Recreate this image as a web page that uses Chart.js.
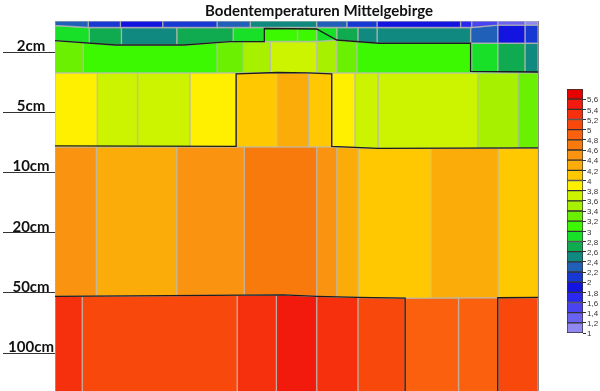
<!DOCTYPE html>
<html>
<head>
<meta charset="utf-8">
<script src="https://cdn.jsdelivr.net/npm/chart.js@4.4.1/dist/chart.umd.min.js"></script>
<style>
html,body{margin:0;padding:0;background:#fff;}
#wrap{position:relative;width:600px;height:391px;overflow:hidden;background:#fff;}
#main{position:absolute;left:0;top:0;}
#legend{position:absolute;left:552px;top:80px;}
</style>
</head>
<body>
<div id="wrap">
<canvas id="main" width="600" height="391"></canvas>
<canvas id="legend" width="48" height="262"></canvas>
</div>
<script>
// ---------- text ----------
const chartTitle = 'Bodentemperaturen Mittelgebirge';
const depthLabels = ['2cm', '5cm', '10cm', '20cm', '50cm', '100cm'];
const depthTickPos = [1, 2, 3, 4, 5, 6];
const depthRange = [0.48, 6.63];
const timeRange = [0, 48];

// ---------- layer boundaries: [time, depth position] ----------
const edgeTop = [[0, 0.48], [48, 0.48]];
const edgeAB = [[0, 0.555], [3.3, 0.588], [41.4, 0.588], [44.0, 0.547], [48, 0.547]];
const edgeBC = [[0, 0.807], [6.0, 0.879], [12.8, 0.879], [17.4, 0.824], [20.8, 0.821], [26.0, 0.821], [28.0, 0.796], [32.2, 0.850], [48, 0.850]];
const edgeCD = [[0, 1.341], [48, 1.341]];
const edgeDE = [[0, 2.573], [27.5, 2.573], [32.1, 2.598], [48, 2.590]];
const edgeEF = [[0, 5.056], [22.7, 5.032], [26.1, 5.056], [30.1, 5.073], [34.8, 5.086], [48, 5.073]];
const edgeBottom = [[0, 6.7], [48, 6.7]];

// ---------- cells of every layer: time edges and temperatures (°C) ----------
const rowATimes = [0, 3.3, 6.5, 10.7, 16.1, 19.4, 26.0, 29.0, 32.0, 40.3, 41.4, 44.0, 46.7, 48];
const rowATemps = [2.3, 2.1, 1.9, 2.1, 2.3, 2.5, 2.3, 2.1, 1.9, 1.7, 1.5, 1.3, 1.1];

const rowBTimes = [0, 3.4, 6.6, 12.1, 17.7, 20.8, 24.1, 26.0, 28.0, 30.1, 32.0, 41.3, 44.0, 46.7, 48];
const rowBTemps = [2.9, 2.7, 2.5, 2.7, 2.9, 3.1, 3.1, 2.9, 2.7, 2.5, 2.5, 2.3, 1.9, 2.1];

const rowCTimes = [0, 2.8, 16.1, 18.7, 21.4, 26.0, 28.0, 30.0, 41.4, 44.0, 46.7, 48];
const rowCTemps = [3.3, 3.1, 3.3, 3.5, 3.7, 3.5, 3.3, 3.1, 2.9, 2.7, 2.5];

const rowDTimes = [0, 4.2, 8.2, 13.4, 18.0, 22.1, 25.2, 27.5, 29.8, 32.1, 42.0, 46.0, 48];
const rowDTemps = [3.9, 3.7, 3.6, 3.9, 4.1, 4.3, 4.1, 3.9, 3.7, 3.7, 3.5, 3.3];

const rowETimes = [0, 4.1, 12.1, 18.8, 26.0, 28.0, 30.1, 37.4, 44.0, 48];
const rowETemps = [4.5, 4.3, 4.5, 4.7, 4.5, 4.3, 4.1, 4.3, 4.1];

const rowFTimes = [0, 2.7, 18.1, 22.0, 26.0, 30.1, 34.8, 40.1, 44.0, 48];
const rowFTemps = [5.3, 5.1, 5.3, 5.5, 5.3, 5.1, 4.9, 4.9, 5.1];

// ---------- isotherms (black contour lines) ----------
const iso3 = [[0, 0.807], [6.0, 0.879], [12.8, 0.879], [17.4, 0.824], [20.8, 0.821], [20.8, 0.605], [26.0, 0.613], [28.0, 0.796], [32.2, 0.850], [41.3, 0.850], [41.3, 1.318], [48, 1.328]];
const iso4 = [[0, 2.556], [18.0, 2.565], [18.0, 1.360], [22.1, 1.336], [25.1, 1.341], [27.5, 1.360], [27.5, 2.565], [32.1, 2.598], [48, 2.590]];
const iso5a = [[0, 5.056], [22.7, 5.032], [26.1, 5.056], [30.1, 5.073], [34.8, 5.086], [34.8, 6.7]];
const iso5b = [[44.0, 6.7], [44.0, 5.08], [48, 5.073]];

// ---------- colour scale ----------
const legendEdges = [1, 1.2, 1.4, 1.6, 1.8, 2, 2.2, 2.4, 2.6, 2.8, 3, 3.2, 3.4, 3.6, 3.8, 4, 4.2, 4.4, 4.6, 4.8, 5, 5.2, 5.4, 5.6, 5.8];
const legendTickLabels = ['1', '1,2', '1,4', '1,6', '1,8', '2', '2,2', '2,4', '2,6', '2,8', '3', '3,2', '3,4', '3,6', '3,8', '4', '4,2', '4,4', '4,6', '4,8', '5', '5,2', '5,4', '5,6'];
const legendColors = ['#9088f0', '#6a62f0', '#4a44f0', '#2a28f0', '#1414e0', '#1838d4', '#2060b8', '#108a80', '#10aa50', '#18e028',
                      '#3cf800', '#6af000', '#a6f000', '#ccf400', '#fff000', '#ffc800', '#fcac08', '#fa9410', '#f87a0c', '#fb600e',
                      '#f8480c', '#f6300c', '#f21a0c', '#e60000'];

function colorFor(t) {
  for (let i = 0; i < legendEdges.length - 1; i++) {
    if (t >= legendEdges[i] && t < legendEdges[i + 1]) return legendColors[i];
  }
  return legendColors[legendColors.length - 1];
}

function yAt(edge, x) {
  for (let i = 0; i < edge.length - 1; i++) {
    const [x0, y0] = edge[i], [x1, y1] = edge[i + 1];
    if (x >= x0 && x <= x1) return x1 === x0 ? y0 : y0 + (y1 - y0) * (x - x0) / (x1 - x0);
  }
  return edge[edge.length - 1][1];
}

function cellPolygon(top, bot, x0, x1) {
  const pts = [{x: x0, y: yAt(top, x0)}];
  top.forEach(([x, y]) => { if (x > x0 && x < x1) pts.push({x, y}); });
  pts.push({x: x1, y: yAt(top, x1)});
  pts.push({x: x1, y: yAt(bot, x1)});
  bot.slice().reverse().forEach(([x, y]) => { if (x > x0 && x < x1) pts.push({x, y}); });
  pts.push({x: x0, y: yAt(bot, x0)});
  pts.push({x: x0, y: yAt(top, x0)});
  return pts;
}

const layers = [
  {times: rowATimes, temps: rowATemps, top: edgeTop, bot: edgeAB},
  {times: rowBTimes, temps: rowBTemps, top: edgeAB, bot: edgeBC},
  {times: rowCTimes, temps: rowCTemps, top: edgeBC, bot: edgeCD},
  {times: rowDTimes, temps: rowDTemps, top: edgeCD, bot: edgeDE},
  {times: rowETimes, temps: rowETemps, top: edgeDE, bot: edgeEF},
  {times: rowFTimes, temps: rowFTemps, top: edgeEF, bot: edgeBottom}
];

const datasets = [];
[iso3, iso4, iso5a, iso5b].forEach(line => {
  datasets.push({
    data: line.map(([x, y]) => ({x, y})),
    showLine: true, fill: false, borderColor: '#1c1c1c', borderWidth: 1.3,
    pointRadius: 0, tension: 0, order: 0
  });
});
layers.forEach(layer => {
  layer.temps.forEach((t, i) => {
    datasets.push({
      data: cellPolygon(layer.top, layer.bot, layer.times[i], layer.times[i + 1]),
      showLine: true, fill: 'shape', backgroundColor: colorFor(t),
      borderColor: 'rgba(185,185,175,0.75)', borderWidth: 1.3,
      pointRadius: 0, tension: 0, order: 1
    });
  });
});

Chart.defaults.font.family = 'Lato, "Open Sans", sans-serif';

new Chart(document.getElementById('main'), {
  type: 'scatter',
  data: {datasets},
  options: {
    responsive: false, animation: false, devicePixelRatio: 1,
    layout: {padding: {left: 0, right: -38, top: 0, bottom: 0}},
    plugins: {
      legend: {display: false}, tooltip: {enabled: false},
      title: {display: true, text: chartTitle, color: '#111',
              font: {size: 15, weight: 'bold', lineHeight: 1.2},
              padding: {top: 2, bottom: 1}}
    },
    scales: {
      x: {type: 'linear', min: timeRange[0], max: timeRange[1], display: false},
      y: {
        type: 'linear', reverse: true, min: depthRange[0], max: depthRange[1],
        afterBuildTicks: s => { s.ticks = depthTickPos.map(v => ({value: v})); },
        afterFit: s => { s.width = 55; },
        ticks: {callback: (v, i) => depthLabels[i], color: '#111', crossAlign: 'center',
                padding: -51, labelOffset: -6, autoSkip: false,
                font: {size: 15, weight: 'bold'}},
        grid: {drawOnChartArea: false, drawTicks: true, tickLength: 52, tickColor: '#333', tickWidth: 1.2},
        border: {display: true, color: '#666', width: 1}
      },
      y2: {
        type: 'linear', position: 'right', min: 0, max: 1,
        afterFit: s => { s.width = 100; },
        ticks: {display: false},
        grid: {drawOnChartArea: false, drawTicks: false},
        border: {display: true, color: '#888', width: 1}
      }
    }
  }
});

// ---------- colour legend ----------
new Chart(document.getElementById('legend'), {
  type: 'bar',
  data: {
    labels: [''],
    datasets: legendColors.map((c, i) => ({
      data: [[legendEdges[i], legendEdges[i + 1]]],
      backgroundColor: c, borderColor: '#333', borderWidth: 1,
      grouped: false, categoryPercentage: 1, barPercentage: 1, borderSkipped: false
    }))
  },
  options: {
    responsive: false, animation: false, devicePixelRatio: 1,
    layout: {padding: {left: 15, right: 0, top: 9, bottom: 9}},
    plugins: {legend: {display: false}, tooltip: {enabled: false}},
    scales: {
      x: {display: false},
      y: {
        position: 'right', min: legendEdges[0], max: legendEdges[legendEdges.length - 1],
        afterBuildTicks: s => { s.ticks = legendEdges.slice(0, legendTickLabels.length).map(v => ({value: v})); },
        afterFit: s => { s.width = 17; },
        ticks: {callback: (v, i) => legendTickLabels[i], color: '#333', padding: 1, labelOffset: 1,
                autoSkip: false, font: {size: 8, family: '"Liberation Sans", Arial, sans-serif'}},
        grid: {drawOnChartArea: false, drawTicks: true, tickLength: 3, tickColor: '#333'},
        border: {display: false}
      }
    }
  }
});
</script>
</body>
</html>
